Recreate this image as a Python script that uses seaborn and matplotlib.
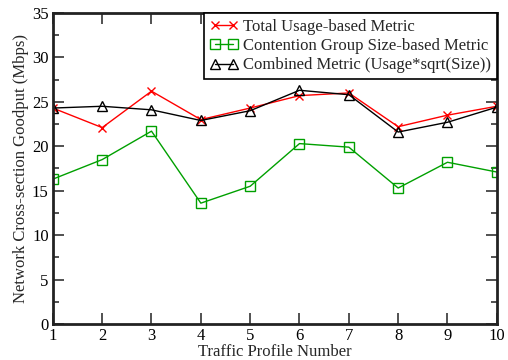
import matplotlib
matplotlib.use("Agg")
import matplotlib.pyplot as plt
from matplotlib.ticker import MultipleLocator
import seaborn as sns
import pandas as pd

profiles = [1, 2, 3, 4, 5, 6, 7, 8, 9, 10]
total_usage = [24.3, 22.1, 26.2, 23.0, 24.3, 25.7, 26.0, 22.2, 23.5, 24.5]
group_size = [16.3, 18.5, 21.7, 13.6, 15.5, 20.3, 19.9, 15.3, 18.2, 17.1]
combined = [24.3, 24.5, 24.1, 22.9, 24.0, 26.3, 25.8, 21.6, 22.7, 24.4]

labels = ["Total Usage-based Metric",
          "Contention Group Size-based Metric",
          "Combined Metric (Usage*sqrt(Size))"]

sns.set_style("ticks")
plt.rcParams["font.family"] = ["Liberation Serif", "DejaVu Serif"]

df = pd.DataFrame({
    "profile": profiles * 3,
    "goodput": total_usage + group_size + combined,
    "metric": [labels[0]] * 10 + [labels[1]] * 10 + [labels[2]] * 10,
})

fig = plt.figure(figsize=(5.08, 3.6), dpi=100)
ax = fig.add_axes([0.104, 0.1, 0.874, 0.864])

styles = [("#ff0000", "x"), ("#00a000", "s"), ("#000000", "^")]
for lab, (col, mk) in zip(labels, styles):
    sub = df[df["metric"] == lab]
    sns.lineplot(data=sub, x="profile", y="goodput", ax=ax, color=col,
                 marker=mk, markersize=7 if mk != "x" else 6,
                 markerfacecolor="none" if mk != "x" else col,
                 markeredgecolor=col, markeredgewidth=1.0,
                 linewidth=1.0, label=lab)

ax.set_xlim(1, 10)
ax.set_ylim(0, 35)
ax.xaxis.set_major_locator(MultipleLocator(1))
ax.yaxis.set_major_locator(MultipleLocator(5))
ax.yaxis.set_minor_locator(MultipleLocator(2.5))
ax.tick_params(which="both", direction="in", top=True, right=True,
               labelsize=12, colors="black", pad=3)
ax.tick_params(which="major", length=8, width=1.2, color="#333333")
ax.tick_params(which="minor", length=4, width=1.2, color="#333333")
for s in ax.spines.values():
    s.set_linewidth(2)
    s.set_color("#222222")

ax.set_xlabel("Traffic Profile Number", fontsize=12, labelpad=0)
ax.set_ylabel("Network Cross-section Goodput (Mbps)", fontsize=12, labelpad=2)

leg = ax.legend(loc="upper right", fontsize=12, frameon=True, fancybox=False,
                borderaxespad=0, handlelength=1.7, handletextpad=0.3,
                labelspacing=0.2, borderpad=0.35, numpoints=2)
leg.get_frame().set_edgecolor("black")
leg.get_frame().set_linewidth(1.2)
leg.get_frame().set_alpha(1)

fig.savefig("out.png", dpi=100)
